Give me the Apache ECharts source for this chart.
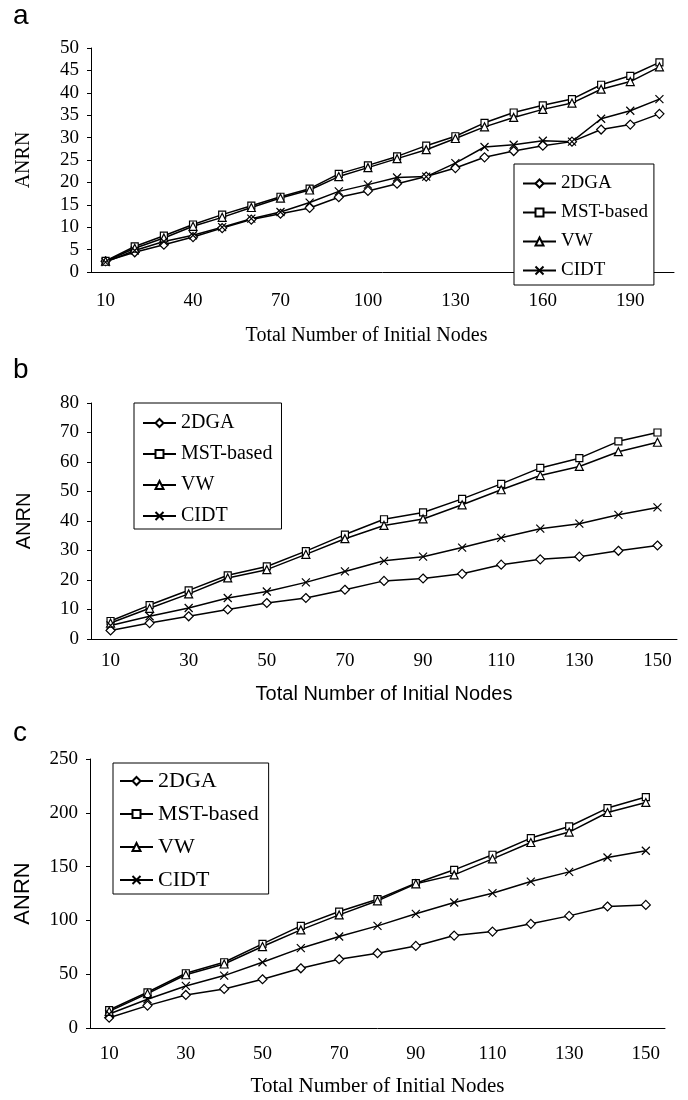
<!DOCTYPE html>
<html>
<head>
<meta charset="utf-8">
<script src="https://cdn.jsdelivr.net/npm/echarts@6/dist/echarts.min.js"></script>
<style>
  html, body { margin: 0; padding: 0; background: #fff; }
  #chart_anrn { width: 688px; height: 1100px; }
</style>
</head>
<body>
<div id="chart_anrn"></div>
<script>
  // x categories (total number of initial nodes)
  var nodesA = ['10','20','30','40','50','60','70','80','90','100','110','120','130','140','150','160','170','180','190','200'];
  var nodesB = ['10','20','30','40','50','60','70','80','90','100','110','120','130','140','150'];
  var nodesC = ['10','20','30','40','50','60','70','80','90','100','110','120','130','140','150'];

  var seriesNames = ['2DGA', 'MST-based', 'VW', 'CIDT'];

  // panel a
  var a2DGA = [2.4, 4.4, 6.1, 7.8, 9.8, 11.7, 13.0, 14.3, 16.7, 18.1, 19.7, 21.3, 23.2, 25.6, 27.0, 28.2, 29.1, 31.8, 32.9, 35.3];
  var aMST  = [2.5, 5.7, 8.1, 10.6, 12.8, 14.8, 16.8, 18.6, 21.9, 23.8, 25.8, 28.2, 30.3, 33.3, 35.6, 37.2, 38.6, 41.8, 43.8, 46.8];
  var aVW   = [2.4, 5.3, 7.6, 10.2, 12.2, 14.4, 16.5, 18.3, 21.3, 23.3, 25.3, 27.3, 29.8, 32.4, 34.5, 36.3, 37.7, 40.8, 42.5, 45.8];
  var aCIDT = [2.2, 4.8, 6.8, 8.2, 10.0, 11.9, 13.4, 15.5, 18.0, 19.5, 21.1, 21.3, 24.3, 27.9, 28.4, 29.3, 29.1, 34.2, 36.0, 38.6];

  // panel b
  var b2DGA = [2.9, 5.4, 7.7, 10.0, 12.2, 13.9, 16.7, 19.7, 20.5, 22.1, 25.2, 27.0, 27.9, 29.9, 31.7];
  var bMST  = [6.1, 11.5, 16.5, 21.6, 24.6, 29.8, 35.4, 40.6, 42.9, 47.5, 52.6, 58.0, 61.3, 67.0, 70.0];
  var bVW   = [5.4, 10.4, 15.3, 20.7, 23.5, 28.7, 34.0, 38.5, 40.7, 45.5, 50.6, 55.4, 58.5, 63.5, 66.7];
  var bCIDT = [4.6, 7.7, 10.5, 13.9, 16.1, 19.2, 22.9, 26.5, 27.9, 31.0, 34.3, 37.4, 39.1, 42.1, 44.6];

  // panel c
  var c2DGA = [9.6, 20.8, 30.7, 36.3, 45.3, 55.5, 63.9, 69.5, 76.3, 85.9, 89.6, 96.8, 104.2, 112.9, 114.4];
  var cMST  = [16.7, 33.2, 50.9, 61.1, 78.2, 94.9, 108.2, 119.7, 134.6, 147.0, 161.0, 176.5, 187.3, 204.4, 214.6];
  var cVW   = [15.5, 32.0, 49.5, 59.5, 75.7, 91.2, 105.1, 118.2, 134.0, 142.3, 157.2, 172.4, 182.1, 200.3, 209.6];
  var cCIDT = [13.0, 26.7, 39.1, 48.7, 61.1, 74.2, 85.0, 94.9, 106.1, 116.6, 125.3, 136.1, 145.1, 158.5, 164.7];

  var serif = '"Liberation Serif", "Times New Roman", serif';
  var sans = '"Liberation Sans", Arial, sans-serif';

  var symbols = {
    '2DGA': ['diamond', 9],
    'MST-based': ['rect', 7],
    'VW': ['triangle', 8],
    'CIDT': ['path://M0,0L10,10M10,0L0,10', 8]
  };

  function makeSeries(idx, lists) {
    return seriesNames.map(function (name, i) {
      return {
        name: name,
        type: 'line',
        xAxisIndex: idx,
        yAxisIndex: idx,
        data: lists[i],
        symbol: symbols[name][0],
        symbolSize: symbols[name][1],
        showAllSymbol: true,
        lineStyle: { color: '#000', width: 1.5 },
        itemStyle: { color: '#fff', borderColor: '#000', borderWidth: 1.2 },
        emphasis: { disabled: true },
        animation: false
      };
    });
  }

  function xAxisOf(idx, cats, labelInterval, margin, gap, nameFont, nameSize, namePad) {
    return {
      type: 'category',
      gridIndex: idx,
      data: cats,
      boundaryGap: true,
      name: 'Total Number of Initial Nodes',
      nameLocation: 'middle',
      nameGap: gap,
      nameTextStyle: { fontFamily: nameFont, fontSize: nameSize, color: '#000', padding: namePad },
      axisLine: { lineStyle: { color: '#000', width: 1 } },
      axisTick: { interval: 0, inside: true, length: 6, lineStyle: { color: '#000' } },
      axisLabel: { interval: labelInterval, margin: margin, fontFamily: serif, fontSize: 19, color: '#000' },
      splitLine: { show: false }
    };
  }

  function yAxisOf(idx, max, step, gap, nameFont, nameSize) {
    return {
      type: 'value',
      gridIndex: idx,
      min: 0,
      max: max,
      interval: step,
      name: 'ANRN',
      nameLocation: 'middle',
      nameGap: gap,
      nameTextStyle: { fontFamily: nameFont, fontSize: nameSize, color: '#000' },
      axisLine: { show: true, lineStyle: { color: '#000', width: 1 } },
      axisTick: { show: true, length: 4, lineStyle: { color: '#000' } },
      axisLabel: { margin: 12, fontFamily: serif, fontSize: 19, color: '#000' },
      splitLine: { show: false }
    };
  }

  function legendOf(left, top, size, gap, padding) {
    return {
      data: seriesNames,
      orient: 'vertical',
      left: left,
      top: top,
      itemWidth: 33,
      itemHeight: 10,
      itemGap: gap,
      padding: padding,
      backgroundColor: '#fff',
      borderColor: '#000',
      borderWidth: 1,
      borderRadius: 0,
      selectedMode: false,
      textStyle: { fontFamily: serif, fontSize: size, color: '#000' }
    };
  }

  function panelLabel(text, top) {
    return {
      text: text,
      left: 13,
      top: top,
      padding: 0,
      textStyle: { fontFamily: sans, fontSize: 28, fontWeight: 'normal', color: '#000' }
    };
  }

  var myChart = echarts.init(document.getElementById('chart_anrn'));
  var option = {
    backgroundColor: '#fff',
    animation: false,
    title: [panelLabel('a', 2), panelLabel('b', 356), panelLabel('c', 719)],
    grid: [
      { left: 91, top: 48, width: 583, height: 224 },
      { left: 91, top: 403, width: 586, height: 236 },
      { left: 90, top: 759, width: 575, height: 269 }
    ],
    xAxis: [
      xAxisOf(0, nodesA, 2, 20, 54, serif, 20, [0, 32, 0, 0]),
      xAxisOf(1, nodesB, 1, 13, 45, sans, 20, 0),
      xAxisOf(2, nodesC, 1, 17, 48, serif, 21, 0)
    ],
    yAxis: [
      yAxisOf(0, 50, 5, 57, serif, 20),
      yAxisOf(1, 80, 10, 57, sans, 20),
      yAxisOf(2, 250, 50, 56, sans, 22)
    ],
    legend: [
      legendOf(514, 164, 19, 10, [10, 6, 5, 8]),
      legendOf(134, 403, 20, 11, [10, 9, 3, 8]),
      legendOf(113, 763, 22, 11, [7, 10, 3, 6])
    ],
    series: []
      .concat(makeSeries(0, [a2DGA, aMST, aVW, aCIDT]))
      .concat(makeSeries(1, [b2DGA, bMST, bVW, bCIDT]))
      .concat(makeSeries(2, [c2DGA, cMST, cVW, cCIDT]))
  };
  myChart.setOption(option);
  window.addEventListener('resize', function () { myChart.resize(); });
</script>
</body>
</html>
